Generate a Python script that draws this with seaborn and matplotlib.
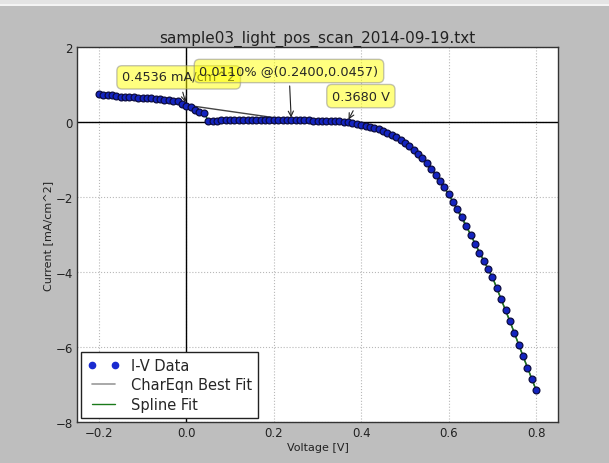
import matplotlib
matplotlib.use("Agg")
import matplotlib.pyplot as plt
from matplotlib.lines import Line2D
from matplotlib.patches import Rectangle
import seaborn as sns
import pandas as pd

# ---- data ----
voltage = [-0.20, -0.19, -0.18, -0.17, -0.16, -0.15, -0.14, -0.13, -0.12, -0.11,
           -0.10, -0.09, -0.08, -0.07, -0.06, -0.05, -0.04, -0.03, -0.02, -0.01,
           0.00, 0.01, 0.02, 0.03, 0.04, 0.05, 0.06, 0.07, 0.08, 0.09,
           0.10, 0.11, 0.12, 0.13, 0.14, 0.15, 0.16, 0.17, 0.18, 0.19,
           0.20, 0.21, 0.22, 0.23, 0.24, 0.25, 0.26, 0.27, 0.28, 0.29,
           0.30, 0.31, 0.32, 0.33, 0.34, 0.35, 0.36, 0.37, 0.38, 0.39,
           0.40, 0.41, 0.42, 0.43, 0.44, 0.45, 0.46, 0.47, 0.48, 0.49,
           0.50, 0.51, 0.52, 0.53, 0.54, 0.55, 0.56, 0.57, 0.58, 0.59,
           0.60, 0.61, 0.62, 0.63, 0.64, 0.65, 0.66, 0.67, 0.68, 0.69,
           0.70, 0.71, 0.72, 0.73, 0.74, 0.75, 0.76, 0.77, 0.78, 0.79,
           0.80]
current = [0.74, 0.73, 0.72, 0.71, 0.70, 0.68, 0.67, 0.67, 0.66, 0.65,
           0.64, 0.64, 0.63, 0.62, 0.61, 0.60, 0.59, 0.57, 0.55, 0.47,
           0.43, 0.40, 0.32, 0.27, 0.25, 0.04, 0.04, 0.04, 0.041, 0.041,
           0.042, 0.042, 0.043, 0.043, 0.044, 0.044, 0.044, 0.045, 0.045, 0.045,
           0.045, 0.045, 0.045, 0.045, 0.046, 0.045, 0.044, 0.043, 0.042, 0.040,
           0.037, 0.034, 0.030, 0.026, 0.021, 0.015, 0.008, -0.002, -0.02, -0.045,
           -0.075, -0.10, -0.12, -0.15, -0.19, -0.23, -0.28, -0.34, -0.40, -0.48,
           -0.56, -0.65, -0.75, -0.85, -0.97, -1.10, -1.24, -1.40, -1.56, -1.74,
           -1.93, -2.12, -2.32, -2.52, -2.76, -3.00, -3.24, -3.48, -3.70, -3.92,
           -4.14, -4.42, -4.72, -5.02, -5.30, -5.62, -5.94, -6.25, -6.55, -6.85,
           -7.15]

fit_voltage = [-0.20, -0.10, 0.00, 0.24, 0.30, 0.35, 0.40, 0.45, 0.50, 0.55,
               0.60, 0.65, 0.70, 0.75, 0.80]
fit_current = [0.74, 0.64, 0.45, 0.05, 0.037, 0.015, -0.075, -0.23, -0.56, -1.10,
               -1.93, -3.00, -4.14, -5.62, -7.15]

title = "sample03_light_pos_scan_2014-09-19.txt"
isc_label = "0.4536 mA/cm^2"
isc_point = (0.0, 0.4536)
pmax_label = "0.0110% @(0.2400,0.0457)"
pmax_point = (0.24, 0.0457)
voc_label = "0.3680 V"
voc_point = (0.368, 0.0)
legend_labels = ["I-V Data", "CharEqn Best Fit", "Spline Fit"]

df = pd.DataFrame({"V": voltage, "I": current})
df_fit = pd.DataFrame({"V": fit_voltage, "I": fit_current})

sns.set_style("white")
plt.rcParams['font.family'] = ['DejaVu Sans']

fig = plt.figure(figsize=(6.09, 4.64), dpi=100, facecolor="#bebebe")
# window strip at top
fig.patches.append(Rectangle((0, 1 - 5 / 464), 1, 5 / 464, transform=fig.transFigure,
                             facecolor="#e4e4e4", edgecolor="none"))
fig.patches.append(Rectangle((0, 1 - 7 / 464), 1, 2 / 464, transform=fig.transFigure,
                             facecolor="#f4f4f4", edgecolor="none"))

ax = fig.add_axes([77 / 609, 1 - 423 / 464, (558 - 77) / 609, (423 - 48) / 464])
ax.set_facecolor("white")

ax.axhline(0, color="black", lw=1, zorder=1)
ax.axvline(0, color="black", lw=1, zorder=1)

sns.lineplot(data=df_fit, x="V", y="I", ax=ax, color="#444444", lw=1,
             sort=False, estimator=None, zorder=2, legend=False)
sns.lineplot(data=df, x="V", y="I", ax=ax, color="#1a7a1a", lw=1.0,
             sort=False, estimator=None, zorder=2.5, legend=False)
sns.scatterplot(data=df, x="V", y="I", ax=ax, color="#1424c0", edgecolor="#0c0c40",
                linewidth=0.9, s=24, zorder=3, legend=False)

ax.set_xlim(-0.25, 0.85)
ax.set_ylim(-8, 2)
ax.set_xticks([-0.2, 0.0, 0.2, 0.4, 0.6, 0.8])
ax.set_xticklabels(["\u22120.2", "0.0", "0.2", "0.4", "0.6", "0.8"])
ax.set_yticks([-8, -6, -4, -2, 0, 2])
ax.set_yticklabels(["\u22128", "\u22126", "\u22124", "\u22122", "0", "2"])
ax.grid(True, linestyle=":", color="#b8b8b8", lw=0.8)
ax.tick_params(axis="both", labelsize=8.5, colors="#222222", direction="in",
               length=4, pad=3)
for sp in ax.spines.values():
    sp.set_color("#333333")
    sp.set_linewidth(1)
ax.set_title(title, fontsize=11, color="#222222", pad=4)
ax.set_xlabel("Voltage [V]", fontsize=8, color="#222222", labelpad=2)
ax.set_ylabel("Current [mA/cm^2]", fontsize=8, color="#222222", labelpad=2)

bbox = dict(boxstyle="round,pad=0.4", fc="yellow", ec="#888888", alpha=0.5)
arrow = dict(arrowstyle="->", color="#222222", lw=0.8)
ax.annotate(isc_label, xy=isc_point, xytext=(-0.147, 1.19), fontsize=9.3,
            ha="left", va="center", bbox=bbox, arrowprops=arrow, zorder=5)
ax.annotate(pmax_label, xy=pmax_point, xytext=(0.03, 1.36), fontsize=9.3,
            ha="left", va="center", bbox=bbox, arrowprops=arrow, zorder=6)
ax.annotate(voc_label, xy=voc_point, xytext=(0.333, 0.69), fontsize=9.3,
            ha="left", va="center", bbox=bbox, arrowprops=arrow, zorder=6)

handles = [
    Line2D([], [], marker="o", linestyle="none", color="#1a2bd0", markersize=4.5,
           markeredgecolor="#1a2bd0"),
    Line2D([], [], color="#999999", lw=1.2),
    Line2D([], [], color="#1a7a1a", lw=1),
]
leg = ax.legend(handles, legend_labels, loc="lower left", numpoints=2,
                fontsize=10.5, frameon=True, fancybox=False, framealpha=1,
                borderpad=0.4, handlelength=2.2, labelspacing=0.3,
                borderaxespad=0.3)
leg.get_frame().set_edgecolor("#222222")
leg.get_frame().set_linewidth(1)
leg.set_zorder(10)

fig.savefig("out.png", dpi=100, facecolor=fig.get_facecolor())
